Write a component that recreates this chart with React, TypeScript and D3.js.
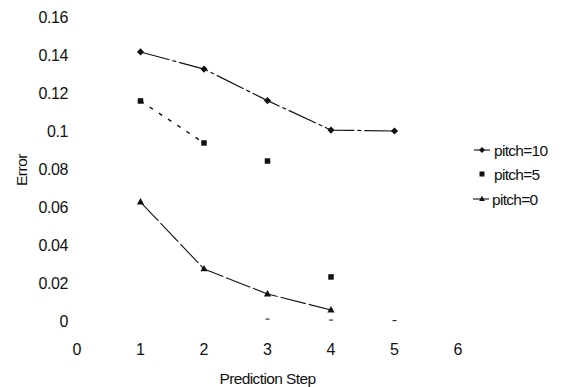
import React from "react";
import * as d3 from "d3";

const steps = [1, 2, 3, 4, 5];
const pitch10 = [0.1416, 0.1326, 0.116, 0.1005, 0.1];
const pitch5 = [0.1158, 0.0937, 0.0842, 0.0232];
const pitch0 = [0.0626, 0.0274, 0.0142, 0.0058];
const pitch5LinkedCount = 2;
const strayMarks = [
  { step: 3, value: 0.001 },
  { step: 4, value: 0.0005 },
  { step: 5, value: 0.0002 },
];
const xTicks = [0, 1, 2, 3, 4, 5, 6];
const yTicks = [0, 0.02, 0.04, 0.06, 0.08, 0.1, 0.12, 0.14, 0.16];
const seriesNames = ["pitch=10", "pitch=5", "pitch=0"];
const xTitle = "Prediction Step";
const yTitle = "Error";

const W = 561;
const H = 387;
const FONT = "'Liberation Sans', Arial, Helvetica, sans-serif";
const INK = "#111";

function Diamond({ x, y, r = 3.6 }: { x: number; y: number; r?: number }) {
  return <path d={`M${x},${y - r}L${x + r},${y}L${x},${y + r}L${x - r},${y}Z`} fill={INK} />;
}
function Square({ x, y, s = 5.5 }: { x: number; y: number; s?: number }) {
  return <rect x={x - s / 2} y={y - s / 2} width={s} height={s} fill={INK} />;
}
function Triangle({ x, y, r = 4 }: { x: number; y: number; r?: number }) {
  return <path d={`M${x},${y - r}L${x + r * 0.9},${y + r * 0.6}L${x - r * 0.9},${y + r * 0.6}Z`} fill={INK} />;
}

export default function App() {
  const x = d3.scaleLinear().domain([0, 6]).range([77, 458]);
  const y = d3.scaleLinear().domain([0, 0.16]).range([321, 17]);
  const line = d3
    .line<[number, number]>()
    .x((d) => x(d[0]))
    .y((d) => y(d[1]));
  const fmt = d3.format("~g");

  const p10 = pitch10.map((v, i) => [steps[i], v] as [number, number]);
  const p5 = pitch5.map((v, i) => [steps[i], v] as [number, number]);
  const p0 = pitch0.map((v, i) => [steps[i], v] as [number, number]);

  const legendX = 482;
  const legendY = [150, 174, 199];

  return (
    <div style={{ position: "absolute", left: 0, top: 0 }}>
      <svg width={W} height={H} style={{ display: "block", background: "#fff" }} fontFamily={FONT}>
        {yTicks.map((t) => (
          <text key={t} x={68} y={y(t)} textAnchor="end" dominantBaseline="central" fontSize={16} fill={INK} letterSpacing={-0.4}>
            {fmt(t)}
          </text>
        ))}
        {xTicks.map((t) => (
          <text key={t} x={x(t)} y={349} textAnchor="middle" dominantBaseline="central" fontSize={16} fill={INK}>
            {t}
          </text>
        ))}
        <text x={x(3)} y={378} textAnchor="middle" dominantBaseline="central" fontSize={15.5} fill={INK} letterSpacing={-0.6}>
          {xTitle}
        </text>
        <text
          transform={`translate(21,170) rotate(-90)`}
          textAnchor="middle"
          dominantBaseline="central"
          fontSize={15.5}
          fill={INK}
          letterSpacing={-0.5}
        >
          {yTitle}
        </text>

        <path d={line(p10) || ""} fill="none" stroke={INK} strokeWidth={1.2} strokeDasharray="30,3,4,3" />
        {p10.map((d, i) => (
          <Diamond key={i} x={x(d[0])} y={y(d[1])} />
        ))}

        <path d={line(p5.slice(0, pitch5LinkedCount)) || ""} fill="none" stroke={INK} strokeWidth={1.4} strokeDasharray="4,7" />
        {p5.map((d, i) => (
          <Square key={i} x={x(d[0])} y={y(d[1])} />
        ))}

        <path d={line(p0) || ""} fill="none" stroke={INK} strokeWidth={1.1} strokeDasharray="26,3" />
        {p0.map((d, i) => (
          <Triangle key={i} x={x(d[0])} y={y(d[1])} />
        ))}

        {strayMarks.map((m, i) => (
          <line key={i} x1={x(m.step) - 2} x2={x(m.step) + 2} y1={y(m.value)} y2={y(m.value)} stroke={INK} strokeWidth={1} />
        ))}

        <line x1={legendX - 8} x2={legendX + 8} y1={legendY[0]} y2={legendY[0]} stroke={INK} strokeWidth={1.1} />
        <Diamond x={legendX} y={legendY[0]} r={3} />
        <text x={legendX + 12} y={legendY[0]} dominantBaseline="central" fontSize={15.5} fill={INK} letterSpacing={-0.7}>
          {seriesNames[0]}
        </text>
        <Square x={legendX} y={legendY[1]} s={5} />
        <text x={legendX + 12} y={legendY[1]} dominantBaseline="central" fontSize={15.5} fill={INK} letterSpacing={-0.7}>
          {seriesNames[1]}
        </text>
        <line x1={legendX - 9} x2={legendX + 7} y1={legendY[2]} y2={legendY[2]} stroke={INK} strokeWidth={1.1} />
        <Triangle x={legendX} y={legendY[2]} r={3.2} />
        <text x={legendX + 10} y={legendY[2]} dominantBaseline="central" fontSize={15.5} fill={INK} letterSpacing={-0.7}>
          {seriesNames[2]}
        </text>
      </svg>
    </div>
  );
}
